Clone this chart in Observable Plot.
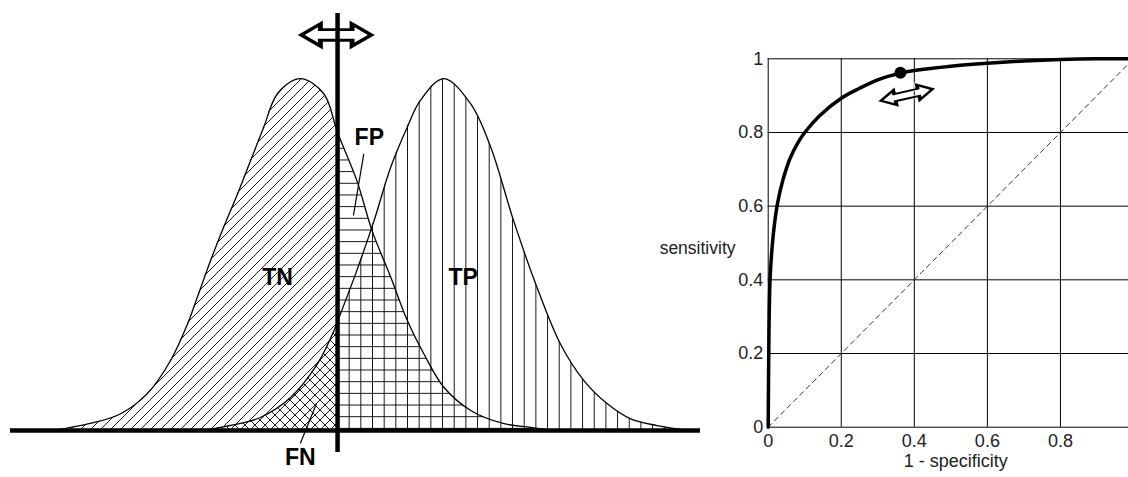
<!DOCTYPE html>
<html><head><meta charset="utf-8">
<script src="https://cdn.jsdelivr.net/npm/d3@7"></script>
<script src="https://cdn.jsdelivr.net/npm/@observablehq/plot@0.6"></script>
<style>
html,body{margin:0;padding:0;background:#fff;}
#chart{position:relative;width:1128px;height:477px;overflow:hidden;background:#fff;color:#000;font-family:"Liberation Sans",Arial,sans-serif;}
#chart svg{position:absolute;top:0;background:transparent;}
</style></head><body><div id="chart"></div>
<script>
// ---- Left panel: test-value distributions (density normalised to peak = 1) ----
const negX       = [6.5, 8.7, 11.6, 15.9, 19.8, 23.2, 25.6, 27.1, 29.0, 30.9, 32.9, 34.8, 36.7, 38.7, 42.0, 45.4, 47.4, 50.2, 52.4, 55.1, 57.5, 59.9, 62.8, 66.7, 71.4, 75.4, 78.5];
const negDensity = [0.0, 0.009, 0.02, 0.047, 0.104, 0.199, 0.30, 0.38, 0.483, 0.578, 0.672, 0.767, 0.862, 0.957, 1.0, 0.957, 0.847, 0.71, 0.568, 0.436, 0.313, 0.218, 0.123, 0.057, 0.02, 0.009, 0.0];
const posX       = [27.5, 30.4, 33.3, 36.2, 40.6, 44.5, 46.8, 47.4, 50.2, 52.7, 55.1, 57.5, 59.4, 62.8, 66.7, 69.6, 72.9, 76.3, 79.7, 83.1, 86.5, 89.9, 93.7, 97.1];
const posDensity = [0.0, 0.009, 0.02, 0.037, 0.094, 0.19, 0.28, 0.31, 0.455, 0.597, 0.748, 0.862, 0.938, 1.0, 0.928, 0.805, 0.597, 0.407, 0.246, 0.142, 0.076, 0.033, 0.014, 0.003];
const threshold  = 47.4;
const regionNames = ["TN", "FP", "FN", "TP"];
const shiftArrow = "\u2B04";

// ---- Right panel: ROC curve ----
const rocFPR = [0, 0.002, 0.005, 0.01, 0.017, 0.026, 0.04, 0.06, 0.08, 0.1, 0.14, 0.2, 0.25, 0.3, 0.362, 0.4, 0.5, 0.6, 0.7, 0.8, 0.9, 1];
const rocTPR = [0, 0.25, 0.4, 0.48, 0.55, 0.61, 0.67, 0.73, 0.77, 0.8, 0.845, 0.893, 0.92, 0.943, 0.961, 0.968, 0.98, 0.988, 0.994, 0.998, 1.0, 1.0];
const operatingFPR = 0.362;
const operatingTPR = 0.962;
const chanceLine = [0, 1];
const rocTicks = [0, 0.2, 0.4, 0.6, 0.8, 1];
const rocTickLabels = ["0", "0.2", "0.4", "0.6", "0.8", "1"];
const xTitle = "1 - specificity";
const yTitle = "sensitivity";

// ---- build tables ----
const neg = negX.map((x, i) => ({x, y: negDensity[i]}));
const pos = posX.map((x, i) => ({x, y: posDensity[i]}));
const negL = neg.filter(d => d.x <= threshold), negR = neg.filter(d => d.x >= threshold);
const posL = pos.filter(d => d.x <= threshold), posR = pos.filter(d => d.x >= threshold);
const roc = rocFPR.map((f, i) => ({fpr: f, tpr: rocTPR[i]}));
const xLabelTicks = rocTicks.filter(d => d < 1); // the "1" column lies past the picture's right edge
const curve = "catmull-rom";
const font = "Liberation Sans, Arial, sans-serif";

const left = Plot.plot({
  width: 710, height: 477,
  marginLeft: 10, marginRight: 10, marginTop: 13, marginBottom: 25,
  x: {domain: [0, 100], axis: null},
  y: {domain: [-0.0625, 1.185], axis: null},
  style: {fontFamily: font, background: "transparent", overflow: "visible"},
  marks: [
    Plot.areaY(negL, {x: "x", y: "y", curve, fill: "url(#hatchTN)"}),
    Plot.areaY(posL, {x: "x", y: "y", curve, fill: "url(#hatchFN)"}),
    Plot.areaY(negR, {x: "x", y: "y", curve, fill: "url(#hatchFP)"}),
    Plot.areaY(posR, {x: "x", y: "y", curve, fill: "url(#hatchTP)"}),
    Plot.line(neg, {x: "x", y: "y", curve, stroke: "#000", strokeWidth: 1.3}),
    Plot.line(pos, {x: "x", y: "y", curve, stroke: "#000", strokeWidth: 1.3}),
    Plot.text([shiftArrow], {x: threshold, y: 1.126, fontFamily: "DejaVu Sans", fontSize: 58, fill: "#000", stroke: "#fff", strokeWidth: 1.5}),
    Plot.ruleY([0], {stroke: "#000", strokeWidth: 4.5}),
    Plot.ruleX([threshold], {stroke: "#000", strokeWidth: 4.5}),
    Plot.link([{x1: 51.2, y1: 0.786, x2: 49.7, y2: 0.611}, {x1: 44.35, y1: 0.077, x2: 42.0, y2: -0.037}],
      {x1: "x1", y1: "y1", x2: "x2", y2: "y2", stroke: "#000", strokeWidth: 1.2}),
    Plot.text([
      {t: regionNames[0], x: 38.7, y: 0.4355},
      {t: regionNames[1], x: 52.0, y: 0.833},
      {t: regionNames[2], x: 42.0, y: -0.078},
      {t: regionNames[3], x: 65.6, y: 0.4355}
    ], {x: "x", y: "y", text: "t", fontSize: 23, fontWeight: "bold", fill: "#000"})
  ]
});

const right = Plot.plot({
  width: 520, height: 477,
  marginLeft: 147.7, marginRight: 7, marginTop: 58.3, marginBottom: 50.3,
  x: {domain: [0, 1]},
  y: {domain: [0, 1]},
  style: {fontFamily: font, fontSize: "18px", color: "#222", background: "transparent", overflow: "visible"},
  marks: [
    Plot.gridX(rocTicks, {stroke: "#000", strokeOpacity: 1, strokeWidth: 1}),
    Plot.gridY(rocTicks, {stroke: "#000", strokeOpacity: 1, strokeWidth: 1}),
    Plot.axisX(xLabelTicks, {tickFormat: (d, i) => rocTickLabels[i], tickSize: 0, tickPadding: 7, label: null, fontSize: 18}),
    Plot.axisY(rocTicks, {tickFormat: (d, i) => rocTickLabels[i], tickSize: 0, tickPadding: 5, label: null, fontSize: 18}),
    Plot.line(chanceLine, {x: d => d, y: d => d, stroke: "#333", strokeWidth: 1, strokeDasharray: "5,4"}),
    Plot.line(roc, {x: "fpr", y: "tpr", curve, stroke: "#000", strokeWidth: 3.5}),
    Plot.dot([{fpr: operatingFPR, tpr: operatingTPR}], {x: "fpr", y: "tpr", r: 6, fill: "#000"}),
    Plot.text([xTitle], {frameAnchor: "bottom", dx: 5, dy: 40, fontSize: 18, fill: "#222"}),
    Plot.text([yTitle], {frameAnchor: "left", textAnchor: "end", dx: -32.7, dy: 5.8, fontSize: 17.5, fill: "#222"}),
    Plot.text([shiftArrow], {x: 0.381, y: 0.903, rotate: -12.6, fontFamily: "DejaVu Sans", fontSize: 40, fill: "#000", stroke: "#fff", strokeWidth: 1.1})
  ]
});

const host = document.getElementById("chart");
left.style.left = "0px";
right.style.left = "620px";
host.appendChild(left);
host.appendChild(right);

// hatch patterns for the four outcome regions
const defs = d3.select(left).insert("defs", ":first-child");
function pattern(id, attrs, path) {
  const p = defs.append("pattern").attr("id", id).attr("patternUnits", "userSpaceOnUse");
  for (const k in attrs) p.attr(k, attrs[k]);
  p.append("path").attr("d", path).attr("stroke", "#000").attr("stroke-width", 0.9).attr("fill", "none");
}
pattern("hatchTN", {x: 0, y: 0, width: 10, height: 10}, "M0,10 L10,0 M-5,5 L5,-5 M5,15 L15,5");
pattern("hatchFN", {x: 0, y: 0, width: 10, height: 10}, "M0,0 L10,10 M-5,5 L5,15 M5,-5 L15,5");
pattern("hatchFP", {x: 0, y: 416.2, width: 11.67, height: 11.67}, "M-1,0.5 H13");
pattern("hatchTP", {x: 337, y: 0, width: 11.67, height: 11.67}, "M0.5,-1 V13");

// stretch the double-arrow glyphs horizontally to the drawn length
function stretch(svg, targetW) {
  d3.select(svg).selectAll("text").filter(function() { return this.textContent === shiftArrow; }).each(function() {
    const b = this.getBBox();
    const t = this.getAttribute("transform") || "";
    this.setAttribute("transform", t + " scale(" + (targetW / b.width) + ",1)");
  });
}
stretch(left, 85);
stretch(right, 64);
</script></body></html>
